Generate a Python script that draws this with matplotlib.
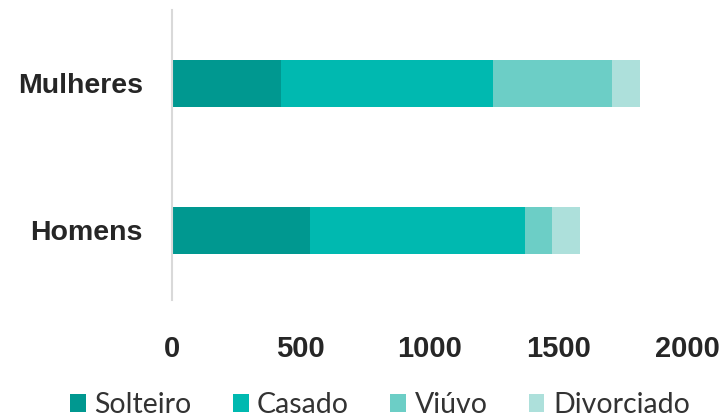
import matplotlib.pyplot as plt
import numpy as np

grupos = ['Homens', 'Mulheres']
estado_civil = ['Solteiro', 'Casado', 'Viúvo', 'Divorciado']
valores = {
    'Solteiro': [536, 423],
    'Casado': [835, 824],
    'Viúvo': [105, 462],
    'Divorciado': [108, 109],
}
cores = ['#009890', '#00B9B0', '#6CCEC6', '#ADE0DB']
x_ticks = [0, 500, 1000, 1500, 2000]

fig = plt.figure(figsize=(7.26, 4.18), dpi=100)
ax = fig.add_axes([172 / 726, 118 / 418, 515 / 726, 290 / 418])

y = np.arange(len(grupos))
base = np.zeros(len(grupos))
for nome, cor in zip(estado_civil, cores):
    v = np.array(valores[nome])
    ax.barh(y, v, left=base, height=0.32, color=cor, label=nome)
    base += v

ax.set_xlim(0, 2000)
ax.set_ylim(-0.473, 1.5)
ax.set_xticks(x_ticks)
ax.set_xticklabels([str(t) for t in x_ticks], fontsize=21, fontweight='bold',
                   color='#262626', family='Liberation Sans')
ax.set_yticks(y)
ax.set_yticklabels(grupos, fontsize=20.5, fontweight='bold', color='#262626',
                   family='Liberation Sans')
ax.tick_params(axis='x', length=0, pad=25)
ax.tick_params(axis='y', length=0, pad=21)

for s in ['top', 'right', 'bottom']:
    ax.spines[s].set_visible(False)
ax.spines['left'].set_color('#D9D9D9')
ax.spines['left'].set_linewidth(1.5)

fig.legend(loc='center', bbox_to_anchor=(380 / 726, 13 / 418), ncol=4, frameon=False,
           prop={'family': 'Lato', 'size': 20.5},
           labelcolor='#333333', handlelength=0.55, handleheight=0.55,
           handletextpad=0.3, columnspacing=1.45, borderaxespad=0)

fig.savefig('out.png', dpi=100)
